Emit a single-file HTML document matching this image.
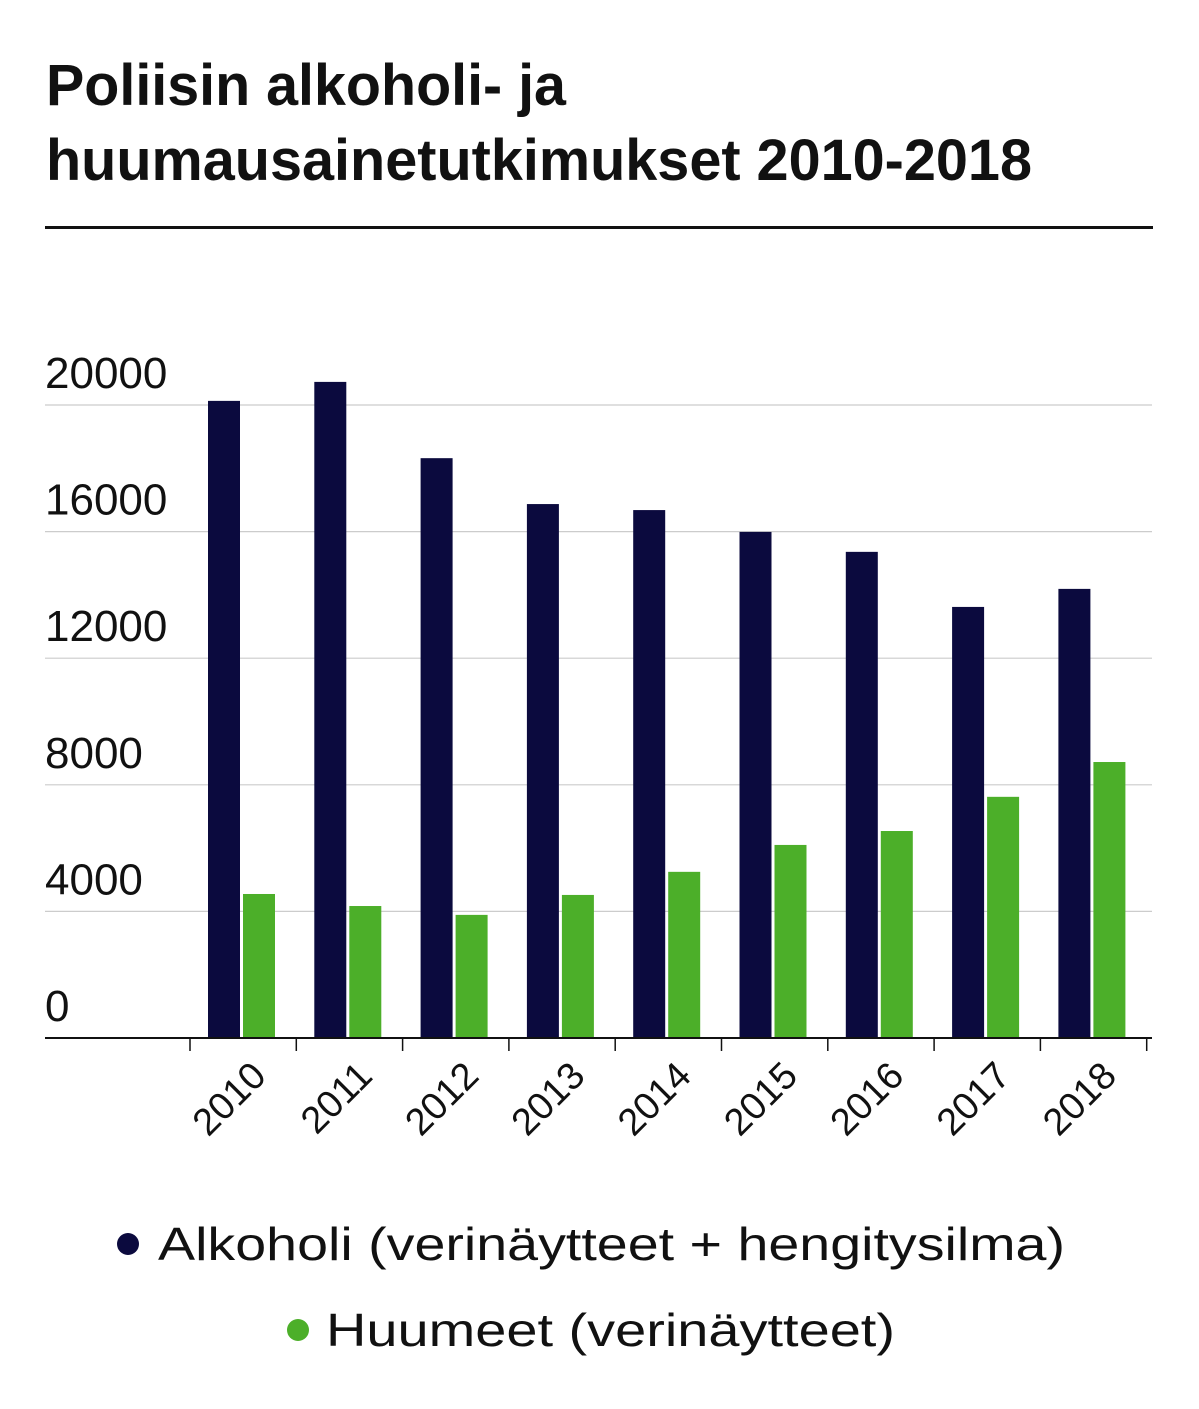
<!DOCTYPE html>
<html><head><meta charset="utf-8"><style>
html,body{margin:0;padding:0;background:#fff;}
svg{display:block;font-family:"Liberation Sans",sans-serif;}
</style></head><body>
<svg id="chart" width="1199" height="1409" viewBox="0 0 1199 1409">
<text x="46" y="105" font-size="58" font-weight="bold" fill="#111" textLength="520" lengthAdjust="spacingAndGlyphs">Poliisin alkoholi- ja</text>
<text x="46" y="180" font-size="58" font-weight="bold" fill="#111" textLength="986" lengthAdjust="spacingAndGlyphs">huumausainetutkimukset 2010-2018</text>
<rect x="45" y="226" width="1108" height="3" fill="#111"/>
<g id="grid"></g><g id="bars"></g><g id="axes"></g>
<circle cx="128" cy="1244" r="11" fill="#0b0a3e"/>
<text x="158" y="1260" font-size="46" fill="#111" textLength="907" lengthAdjust="spacingAndGlyphs">Alkoholi (verinäytteet + hengitysilma)</text>
<circle cx="298" cy="1330" r="11" fill="#4caf29"/>
<text x="326" y="1346" font-size="46" fill="#111" textLength="569" lengthAdjust="spacingAndGlyphs">Huumeet (verinäytteet)</text>
</svg>
<script>
const years = ["2010","2011","2012","2013","2014","2015","2016","2017","2018"];
const alkoholi = [20130,20730,18320,16870,16680,15990,15360,13620,14190];
const huumeet = [4550,4170,3890,4520,5250,6100,6540,7620,8720];
const yTicks = [0,4000,8000,12000,16000,20000];
const yTickLabels = ["0","4000","8000","12000","16000","20000"];
const NS="http://www.w3.org/2000/svg";
const y0=1038, yTop=405, vMax=20000;
const x0=190, band=106.3;
const y=v=>y0-(v/vMax)*(y0-yTop);
const xb=i=>x0+i*band;
function mk(tag,attrs,parent){const e=document.createElementNS(NS,tag);for(const k in attrs)e.setAttribute(k,attrs[k]);parent.appendChild(e);return e;}
const grid=document.getElementById('grid'),bars=document.getElementById('bars'),axes=document.getElementById('axes');
yTicks.forEach((t,i)=>{
  if(t>0){const l=mk('line',{x1:45,x2:1152,y1:y(t),y2:y(t),stroke:'#ccc','stroke-width':1.2},grid);
  
  }
  const tx=mk('text',{x:45,y:y(t)-17,'font-size':44,fill:'#111'},grid);
  tx.textContent=yTickLabels[i];
  
  
});
years.forEach((yr,i)=>{
  const a=mk('rect',{x:xb(i)+18,y:y(alkoholi[i]),width:32,height:y0-y(alkoholi[i]),fill:'#0b0a3e'},bars);
  
  
  const h=mk('rect',{x:xb(i)+53,y:y(huumeet[i]),width:32,height:y0-y(huumeet[i]),fill:'#4caf29'},bars);
  
  
  const cx=xb(i)+band/2+15, cy=1068;
  const t=mk('text',{x:cx,y:cy+14,'font-size':38,fill:'#111','text-anchor':'end',transform:`rotate(-45 ${cx} ${cy})`},axes);
  t.textContent=yr;
  
  
});
for(let i=0;i<=years.length;i++){
  const tk=mk('line',{x1:xb(i),x2:xb(i),y1:y0,y2:y0+13,stroke:'#111','stroke-width':1.5},axes);
  
  
}
const ax=mk('line',{x1:45,x2:1152,y1:y0,y2:y0,stroke:'#111','stroke-width':2},axes);


</script>
</body></html>
